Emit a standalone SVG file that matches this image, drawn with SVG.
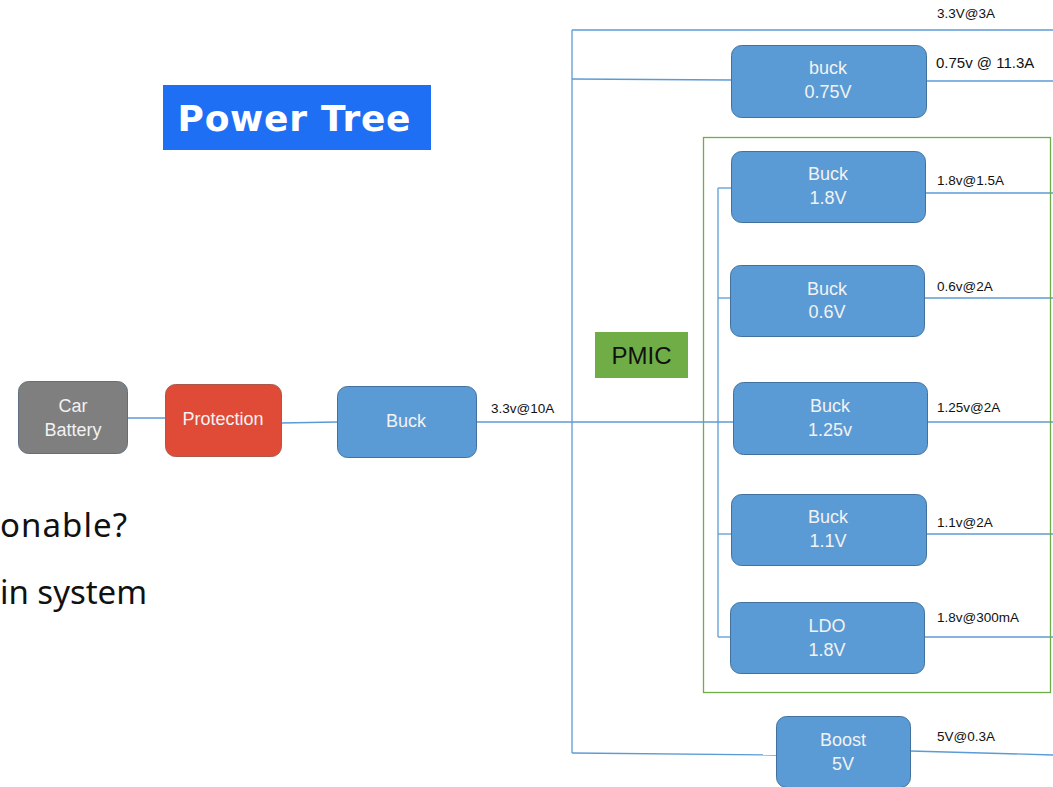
<svg xmlns="http://www.w3.org/2000/svg" width="1053" height="787" viewBox="0 0 1053 787">
  <style>
    .blk { fill: #5b9bd5; stroke: #41719c; stroke-width: 1; }
    .bt { font-family: "Liberation Sans", Arial, sans-serif; font-size: 18px; fill: #f2f2f2; text-anchor: middle; }
    .lbl { font-family: "Liberation Sans", Arial, sans-serif; font-size: 13.5px; fill: #111; }
    .wire { stroke: #5b9bd5; stroke-width: 1.3; fill: none; }
    .side { font-family: "Noto Sans", "Open Sans", sans-serif; font-size: 33px; fill: #111; }
  </style>

  <rect width="1053" height="787" fill="#ffffff"/>

  <!-- title banner -->
  <g id="title">
    <rect x="163" y="85" width="268" height="65" fill="#1f6ff5"/>
    <text x="294" y="131" text-anchor="middle" font-family="DejaVu Sans, Verdana, sans-serif" font-weight="bold" font-size="36" fill="#ffffff" textLength="233">Power Tree</text>
  </g>

  <!-- partial side notes -->
  <text class="side" x="0" y="537" textLength="127">onable?</text>
  <text class="side" x="0" y="604" textLength="147">in system</text>

  <!-- wiring -->
  <g id="connectors">
    <line class="wire" x1="127" y1="418" x2="165" y2="418"/>
    <line class="wire" x1="281" y1="423" x2="337" y2="422"/>
    <line class="wire" x1="476" y1="422" x2="733" y2="422"/>
    <line class="wire" x1="572" y1="30" x2="572" y2="753"/>
    <line class="wire" x1="572" y1="30" x2="1053" y2="30"/>
    <line class="wire" x1="572" y1="79" x2="731" y2="80"/>
    <line class="wire" x1="926" y1="81" x2="1053" y2="81"/>
    <line class="wire" x1="718" y1="188" x2="718" y2="637"/>
    <line class="wire" x1="718" y1="188" x2="731" y2="188"/>
    <line class="wire" x1="718" y1="298" x2="730" y2="298"/>
    <line class="wire" x1="718" y1="534" x2="731" y2="534"/>
    <line class="wire" x1="718" y1="637" x2="730" y2="637"/>
    <line class="wire" x1="925" y1="193" x2="1053" y2="193"/>
    <line class="wire" x1="924" y1="298" x2="1053" y2="298"/>
    <line class="wire" x1="927" y1="422" x2="1053" y2="422"/>
    <line class="wire" x1="926" y1="534" x2="1053" y2="534"/>
    <line class="wire" x1="924" y1="637" x2="1053" y2="637"/>
    <line class="wire" x1="572" y1="753" x2="776" y2="755"/>
    <line class="wire" x1="910" y1="751" x2="1053" y2="755"/>
  </g>

  <!-- rail labels -->
  <g id="rail-labels">
    <text class="lbl" x="491" y="413">3.3v@10A</text>
    <text class="lbl" x="937" y="18">3.3V@3A</text>
    <text class="lbl" x="936" y="68" style="font-size:15px">0.75v @ 11.3A</text>
    <text class="lbl" x="937" y="185">1.8v@1.5A</text>
    <text class="lbl" x="937" y="291">0.6v@2A</text>
    <text class="lbl" x="937" y="412">1.25v@2A</text>
    <text class="lbl" x="937" y="527">1.1v@2A</text>
    <text class="lbl" x="937" y="622">1.8v@300mA</text>
    <text class="lbl" x="937" y="741">5V@0.3A</text>
  </g>

  <!-- PMIC boundary -->
  <g id="pmic">
    <rect x="703.5" y="137.5" width="347" height="555" fill="none" stroke="#70ad47" stroke-width="1.3"/>
    <rect x="595" y="332" width="93" height="46" fill="#70ad47"/>
    <text x="641.5" y="364" text-anchor="middle" font-family="Liberation Sans, Arial, sans-serif" font-size="24" fill="#111">PMIC</text>
  </g>

  <g id="car-battery">
    <rect x="18.5" y="381.5" width="109" height="72" rx="10" fill="#7f7f7f" stroke="#5f6f80"/>
    <text class="bt" x="73" y="412" fill="#e6e6e6">Car</text>
    <text class="bt" x="73" y="436" fill="#e6e6e6">Battery</text>
  </g>

  <g id="protection">
    <rect x="165.5" y="384.5" width="116" height="72" rx="10" fill="#e04b37" stroke="#a8584c"/>
    <text class="bt" x="223" y="425">Protection</text>
  </g>

  <g id="buck-main">
    <rect class="blk" x="337.5" y="386.5" width="139" height="71" rx="10"/>
    <text class="bt" x="406" y="427">Buck</text>
  </g>

  <g id="buck-075">
    <rect class="blk" x="731.5" y="45.5" width="195" height="72" rx="10"/>
    <text class="bt" x="828" y="74">buck</text>
    <text class="bt" x="828" y="98">0.75V</text>
  </g>

  <g id="buck-18">
    <rect class="blk" x="731.5" y="151.5" width="194" height="71" rx="10"/>
    <text class="bt" x="828" y="180">Buck</text>
    <text class="bt" x="828" y="204">1.8V</text>
  </g>

  <g id="buck-06">
    <rect class="blk" x="730.5" y="265.5" width="194" height="71" rx="10"/>
    <text class="bt" x="827" y="295">Buck</text>
    <text class="bt" x="827" y="318">0.6V</text>
  </g>

  <g id="buck-125">
    <rect class="blk" x="733.5" y="382.5" width="194" height="72" rx="10"/>
    <text class="bt" x="830" y="412">Buck</text>
    <text class="bt" x="830" y="436">1.25v</text>
  </g>

  <g id="buck-11">
    <rect class="blk" x="731.5" y="494.5" width="195" height="71" rx="10"/>
    <text class="bt" x="828" y="523">Buck</text>
    <text class="bt" x="828" y="547">1.1V</text>
  </g>

  <g id="ldo-18">
    <rect class="blk" x="730.5" y="602.5" width="194" height="71" rx="10"/>
    <text class="bt" x="827" y="632">LDO</text>
    <text class="bt" x="827" y="656">1.8V</text>
  </g>

  <g id="boost-5">
    <rect class="blk" x="776.5" y="716.5" width="134" height="71" rx="10"/>
    <text class="bt" x="843" y="746">Boost</text>
    <text class="bt" x="843" y="770">5V</text>
  </g>
</svg>
